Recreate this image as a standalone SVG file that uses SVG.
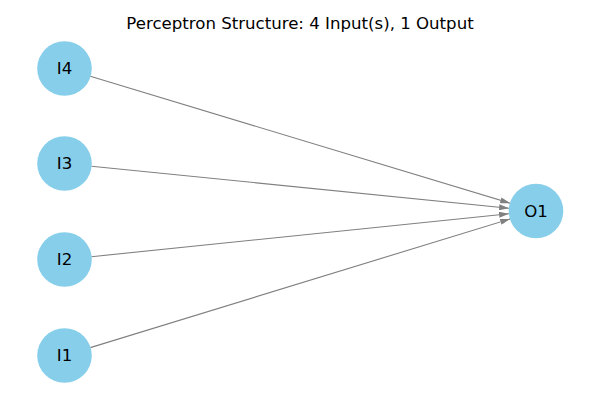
<svg xmlns="http://www.w3.org/2000/svg" width="600" height="400" viewBox="0 0 600 400">
<style>
.node circle{fill:#87ceeb;}
.node text{font-family:"DejaVu Sans",sans-serif;font-size:16.6px;fill:#000;text-anchor:middle;dominant-baseline:central;}
.edge{stroke:#808080;stroke-width:1.1;fill:none;marker-end:url(#ah);}
.title{font-family:"DejaVu Sans",sans-serif;font-size:16.6px;fill:#000;text-anchor:middle;}
</style>
<defs>
<marker id="ah" markerUnits="userSpaceOnUse" viewBox="0 0 10 6" refX="10" refY="3" markerWidth="10" markerHeight="6" orient="auto">
<path d="M0,0 L10,3 L0,6 Z" fill="#808080"/>
</marker>
</defs>
<rect width="600" height="400" fill="#fff"/>
<text class="title" x="300" y="29">Perceptron Structure: 4 Input(s), 1 Output</text>
<g id="connectors">
<line class="edge" x1="90.3" y1="76.3" x2="510.2" y2="203.2"/>
<line class="edge" x1="91.4" y1="166.2" x2="509.1" y2="208.3"/>
<line class="edge" x1="91.4" y1="256.7" x2="509.1" y2="213.8"/>
<line class="edge" x1="90.3" y1="347.6" x2="510.2" y2="218.9"/>
</g>
<g id="I4" class="node"><circle cx="64.5" cy="68.5" r="27.3"/><text x="64.5" y="68.5">I4</text></g>
<g id="I3" class="node"><circle cx="64.5" cy="163.5" r="27.3"/><text x="64.5" y="163.5">I3</text></g>
<g id="I2" class="node"><circle cx="64.5" cy="259.5" r="27.3"/><text x="64.5" y="259.5">I2</text></g>
<g id="I1" class="node"><circle cx="64.5" cy="355.5" r="27.3"/><text x="64.5" y="355.5">I1</text></g>
<g id="O1" class="node"><circle cx="536" cy="211" r="27.3"/><text x="536" y="211">O1</text></g>
</svg>
